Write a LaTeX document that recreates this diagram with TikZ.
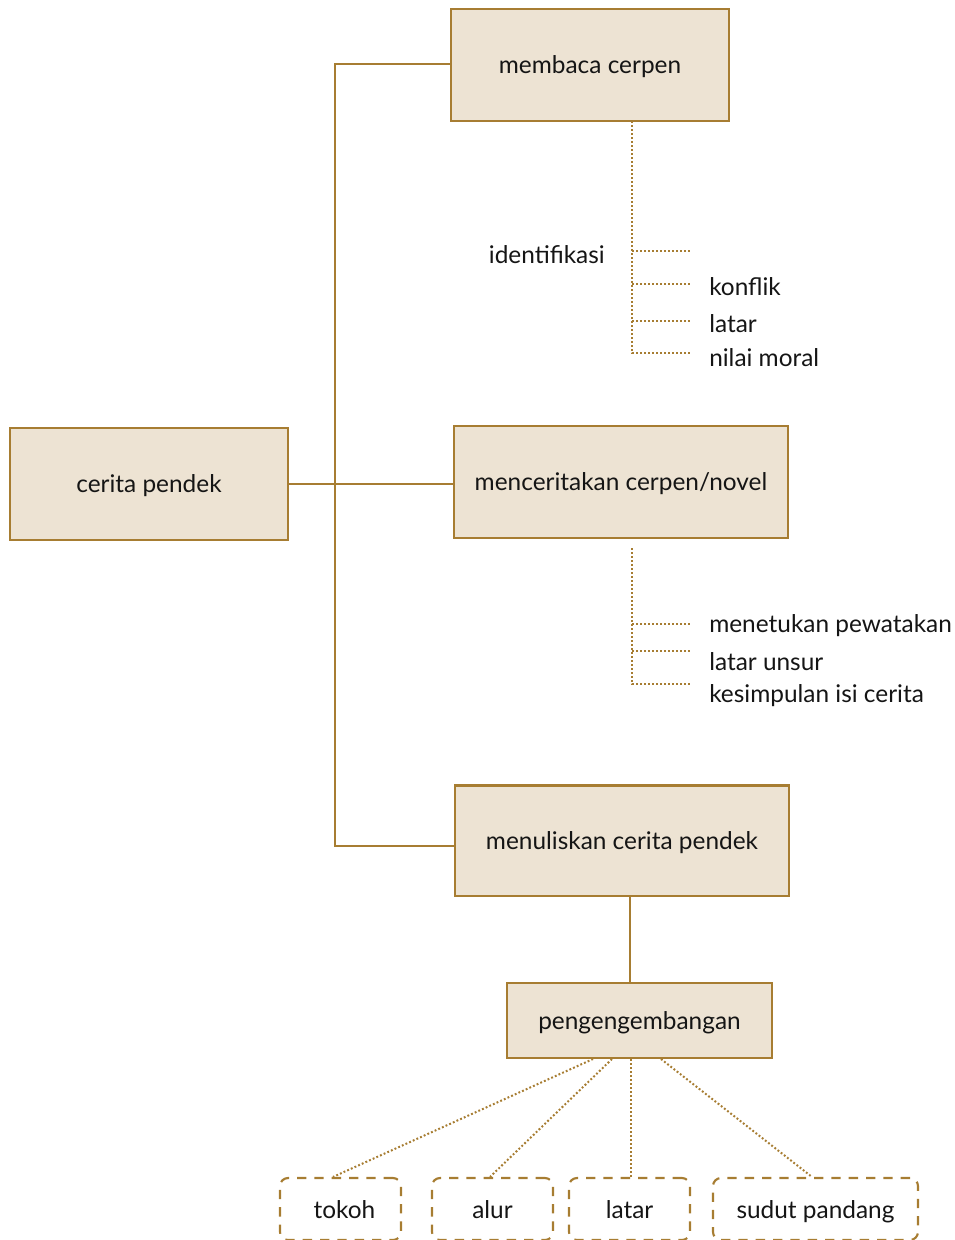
\documentclass[tikz,border=0pt]{standalone}
\usepackage{fontspec}
\setmainfont{Lato}
\usetikzlibrary{calc}
\definecolor{edge}{HTML}{A77D32}
\definecolor{boxfill}{HTML}{EDE3D3}
\definecolor{ink}{HTML}{151515}
\tikzset{
  mainbox/.style={draw=edge, fill=boxfill, line width=2pt, minimum height=84pt, inner sep=0pt, text depth=0pt, text=ink, font=\fontsize{18.3}{21}\selectfont},
  subbox/.style={draw=edge, line width=1.6pt, dash pattern=on 7pt off 6pt, rounded corners=6pt, minimum height=46.5pt, minimum width=90.75pt, inner sep=0pt, text depth=0pt, text=ink, font=\fontsize{18.3}{21}\selectfont},
  link/.style={draw=edge, line width=1.8pt},
  dotlink/.style={draw=edge, line width=1.5pt, dash pattern=on 1.4pt off 1.6pt},
  label/.style={text=ink, font=\fontsize{18.3}{21}\selectfont, inner sep=0pt},
}
\begin{document}
\begin{tikzpicture}[x=0.75pt, y=-0.75pt]
\useasboundingbox (0,0) rectangle (955,1240);
% main boxes
\node[mainbox, minimum width=208.5pt] (membaca) at (590,65) {membaca cerpen};
\node[mainbox, minimum width=208.5pt] (cerita) at (149,484) {cerita pendek};
\node[mainbox, minimum width=250.5pt] (menceritakan) at (621,482) {menceritakan cerpen/novel};
\node[mainbox, minimum width=250.5pt, minimum height=83pt] (menuliskan) at (622,840.5) {menuliskan cerita pendek};
\node[mainbox, minimum width=198.75pt, minimum height=56.25pt] (peng) at (639.5,1020.5) {pengengembangan};
% bottom boxes
\node[subbox] (tokoh) at (340.5,1209) {\hspace*{6pt}tokoh};
\node[subbox] (alur) at (492.5,1209) {alur};
\node[subbox] (latarb) at (629.5,1209) {latar};
\node[subbox, minimum width=153.75pt] (sudut) at (815.5,1209) {sudut pandang};
% trunk
\coordinate (t1) at (335,64);
\coordinate (t2) at (335,846);
\draw[link] (membaca.west |- t1) -- (t1) -- (t2) -- (menuliskan.west |- t2);
\draw[link] (cerita.east) -- (menceritakan.west |- cerita.east);
\draw[link] (menuliskan.south -| 630,0) -- (peng.north -| 630,0);
% first dotted group
\coordinate (a0) at (632,121);
\coordinate (a4) at (632,353);
\coordinate (e1) at (690,251);
\coordinate (e2) at (690,284);
\coordinate (e3) at (690,321);
\coordinate (e4) at (690,353);
\draw[dotlink] (a0) -- (a4) -- (e4);
\draw[dotlink] (e1 -| a0) -- (e1);
\draw[dotlink] (e2 -| a0) -- (e2);
\draw[dotlink] (e3 -| a0) -- (e3);
\node[label, anchor=east] (ident) at (605,255) {identifikasi};
\node[label, anchor=west] (konflik) at (709,287) {konflik};
\node[label, anchor=west] (latar1) at (709,324) {latar};
\node[label, anchor=west] (nilai) at (709,358) {nilai moral};
% second dotted group
\coordinate (b0) at (632,548);
\coordinate (b3) at (632,684);
\coordinate (f1) at (690,624);
\coordinate (f2) at (690,651);
\coordinate (f3) at (690,684);
\draw[dotlink] (b0) -- (b3) -- (f3);
\draw[dotlink] (f1 -| b0) -- (f1);
\draw[dotlink] (f2 -| b0) -- (f2);
\node[label, anchor=west] (menetukan) at (709,626) {menetukan pewatakan};
\node[label, anchor=west] (unsur) at (709,662) {latar unsur};
\node[label, anchor=west] (kesimpulan) at (709,696) {kesimpulan isi cerita};
% bottom fan
\coordinate (p1) at (593,1059);
\coordinate (p2) at (612,1059);
\coordinate (p3) at (631,1059);
\coordinate (p4) at (661,1059);
\draw[dotlink] (p1) -- (tokoh.north -| 333,0);
\draw[dotlink] (p2) -- (alur.north -| 490,0);
\draw[dotlink] (p3) -- (latarb.north -| 631,0);
\draw[dotlink] (p4) -- (sudut.north -| 812,0);
\end{tikzpicture}
\end{document}
